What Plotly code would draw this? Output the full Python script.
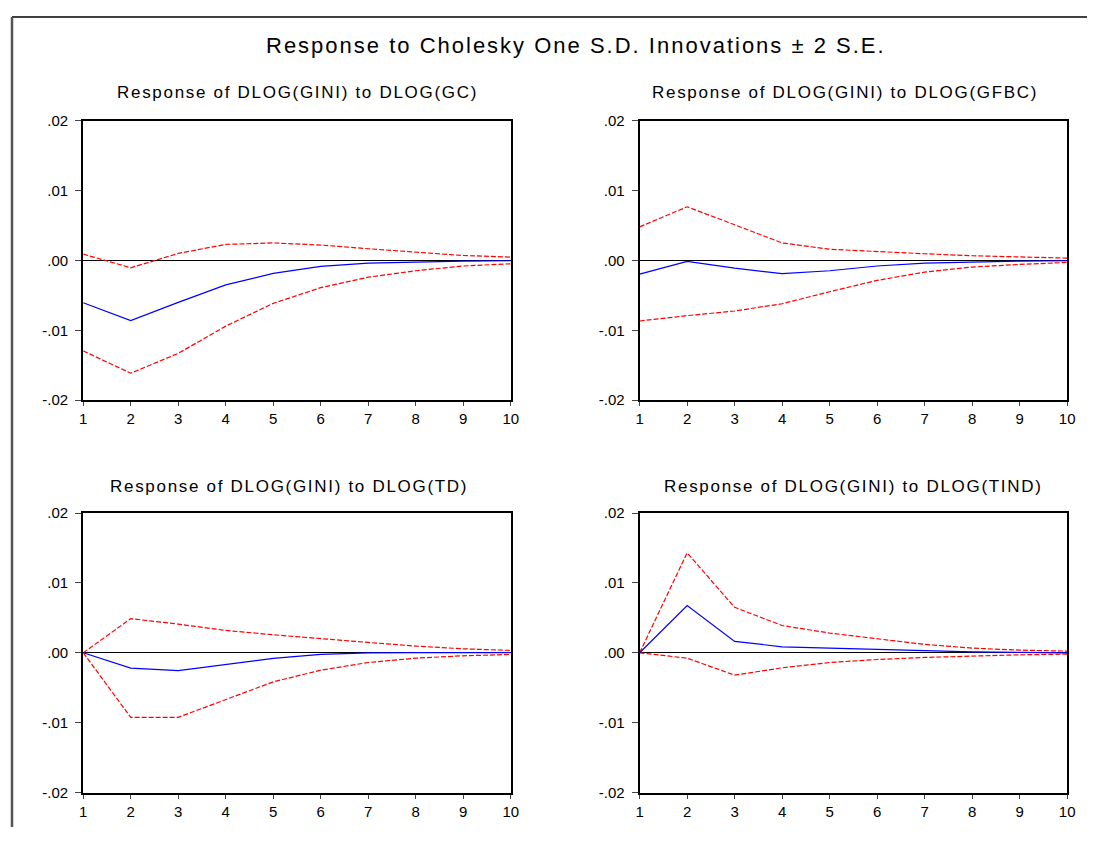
import plotly.graph_objects as go

periods = [1, 2, 3, 4, 5, 6, 7, 8, 9, 10]

# Response of DLOG(GINI) to DLOG(GC)
gc_resp = [-0.00605, -0.00862, -0.0060, -0.0035, -0.00186, -0.00086, -0.0004, -0.0002, -0.0001, -0.00005]
gc_upper = [0.0009, -0.00105, 0.0010, 0.00229, 0.0025, 0.0022, 0.00167, 0.00114, 0.0007, 0.00048]
gc_lower = [-0.01295, -0.01614, -0.0133, -0.0094, -0.00614, -0.0039, -0.0024, -0.00148, -0.0008, -0.00048]

# Response of DLOG(GINI) to DLOG(GFBC)
gfbc_resp = [-0.00195, -0.00014, -0.0011, -0.0019, -0.00148, -0.0008, -0.0004, -0.0002, -0.0001, -0.00005]
gfbc_upper = [0.0048, 0.00767, 0.0051, 0.0025, 0.0016, 0.00124, 0.00095, 0.00067, 0.00048, 0.00033]
gfbc_lower = [-0.00867, -0.0079, -0.00724, -0.0062, -0.00448, -0.00286, -0.00167, -0.00095, -0.00057, -0.00029]

# Response of DLOG(GINI) to DLOG(TD)
td_resp = [0.0, -0.0022, -0.00254, -0.00167, -0.0008, -0.00024, 0.0, 0.00002, 0.00002, 0.00002]
td_upper = [0.0, 0.00488, 0.0041, 0.0032, 0.00258, 0.0020, 0.00148, 0.00096, 0.00057, 0.00033]
td_lower = [0.0, -0.00923, -0.00923, -0.0067, -0.00416, -0.00249, -0.00139, -0.00077, -0.00043, -0.00024]

# Response of DLOG(GINI) to DLOG(TIND)
tind_resp = [0.0, 0.00675, 0.00163, 0.00086, 0.00067, 0.00048, 0.00033, 0.00014, 0.00005, 0.0]
tind_upper = [0.0, 0.0143, 0.0065, 0.0039, 0.00282, 0.00196, 0.0012, 0.00067, 0.00038, 0.00024]
tind_lower = [0.0, -0.00077, -0.0032, -0.00215, -0.00139, -0.00096, -0.00067, -0.00043, -0.00029, -0.00019]

panel_titles = [
    "Response of DLOG(GINI) to DLOG(GC)",
    "Response of DLOG(GINI) to DLOG(GFBC)",
    "Response of DLOG(GINI) to DLOG(TD)",
    "Response of DLOG(GINI) to DLOG(TIND)",
]
main_title = "Response to Cholesky One S.D. Innovations \u00b1 2 S.E."

y_tickvals = [0.02, 0.01, 0.0, -0.01, -0.02]
y_ticktext = [".02", ".01", ".00", "-.01", "-.02"]
x_ticktext = ["1", "2", "3", "4", "5", "6", "7", "8", "9", "10"]

panels = [
    (gc_resp, gc_upper, gc_lower),
    (gfbc_resp, gfbc_upper, gfbc_lower),
    (td_resp, td_upper, td_lower),
    (tind_resp, tind_upper, tind_lower),
]

W, H = 1087, 827
FONT = "Arial, Liberation Sans, sans-serif"

# map target-picture pixel positions to figure paper fractions
AX, SX = 10.7, 0.99
AY, SY = 16.2, 0.981


def px(v):
    return min(max((v - AX) / SX / W, 0), 1)


def py(v):
    return min(max(1 - (v - AY) / SY / H, 0), 1)


# pixel boxes for panels in the target picture (left, right, top, bottom)
boxes = [(82, 510, 120, 400), (639, 1067, 120, 400), (82, 510, 513, 793), (639, 1067, 513, 793)]
title_pos = [(296, 92), (845, 92), (288, 486), (853, 486)]

fig = go.Figure()
layout = dict(
    width=W, height=H, margin=dict(l=0, r=0, t=0, b=0),
    paper_bgcolor="white", plot_bgcolor="white", showlegend=False,
    font=dict(family=FONT, color="black"),
)

for i, ((resp, up, lo), (l, r, t, b)) in enumerate(zip(panels, boxes)):
    n = "" if i == 0 else str(i + 1)
    xa, ya = "x" + n, "y" + n
    for vals, color, dash in [(up, "#ff0000", "5px,2px"), (lo, "#ff0000", "5px,2px"), (resp, "#0000ff", "solid")]:
        fig.add_trace(go.Scatter(x=periods, y=vals, mode="lines", xaxis=xa, yaxis=ya,
                                 line=dict(color=color, width=1.2, dash=dash), hoverinfo="skip"))
    layout["xaxis" + n] = dict(
        domain=[px(l), px(r)], anchor=ya, range=[1, 10], tickvals=periods, ticktext=x_ticktext,
        showgrid=False, zeroline=False, showline=True, linecolor="black", linewidth=2, mirror=True,
        ticks="outside", ticklen=4, tickcolor="#444", tickwidth=1,
        tickfont=dict(size=15, family=FONT, color="black"), fixedrange=True,
    )
    layout["yaxis" + n] = dict(
        domain=[py(b), py(t)], anchor=xa, range=[-0.02, 0.02],
        tickvals=y_tickvals, ticktext=y_ticktext,
        showgrid=False, zeroline=True, zerolinecolor="black", zerolinewidth=1,
        showline=True, linecolor="black", linewidth=2, mirror=True,
        ticks="outside", ticklen=6, tickcolor="#444", tickwidth=1, ticklabelstandoff=4,
        tickfont=dict(size=15, family=FONT, color="black"), fixedrange=True,
    )


def spaced(txt, sp):
    return '<span style="letter-spacing:%.1fpx">%s</span>' % (sp, txt)


annotations = [dict(text=spaced(main_title, 2.0), x=px(575), y=py(45), xref="paper", yref="paper",
                    showarrow=False, xanchor="center", yanchor="middle",
                    font=dict(size=22, family=FONT, color="black"))]
for txt, (cx, cy) in zip(panel_titles, title_pos):
    annotations.append(dict(text=spaced(txt, 1.7), x=px(cx), y=py(cy), xref="paper", yref="paper",
                            showarrow=False, xanchor="center", yanchor="middle",
                            font=dict(size=17, family=FONT, color="black")))
layout["annotations"] = annotations
layout["shapes"] = [
    dict(type="line", xref="paper", yref="paper", x0=0, x1=1, y0=1, y1=1,
         line=dict(color="black", width=1.5)),
    dict(type="line", xref="paper", yref="paper", x0=0, x1=0, y0=0, y1=1,
         line=dict(color="#555555", width=2.5)),
]
fig.update_layout(**layout)
fig.write_html("out.html")
